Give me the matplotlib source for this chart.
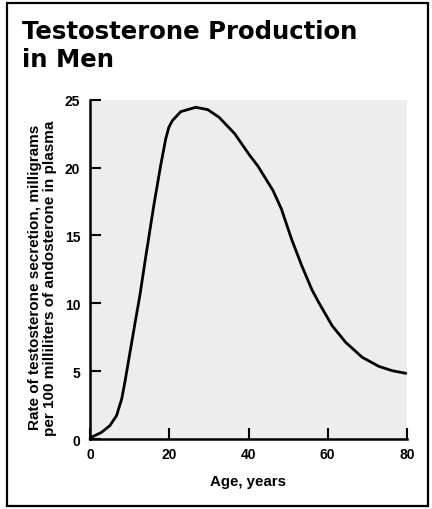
import matplotlib
matplotlib.use("Agg")
import matplotlib.pyplot as plt
from matplotlib.patches import Rectangle

# curve
age = [0, 0.3, 2.9, 5.0, 6.7, 8.0, 8.8, 10.1, 11.4, 12.6, 14.0, 16.1, 17.8, 19.1,
       19.9, 20.8, 22.9, 26.7, 29.7, 32.6, 36.5, 40.3, 42.4, 46.2, 48.3, 50.9,
       53.4, 56.0, 57.7, 61.1, 64.5, 68.7, 72.9, 76.3, 79.7]
rate = [0, 0.12, 0.49, 0.98, 1.72, 2.95, 4.18, 6.4, 8.6, 10.6, 13.3, 17.2, 20.1, 22.1,
        22.97, 23.46, 24.12, 24.44, 24.27, 23.7, 22.5, 20.9, 20.1, 18.3, 16.95, 14.7,
        12.8, 11.0, 10.07, 8.35, 7.13, 6.02, 5.35, 5.03, 4.84]

xticks = [0, 20, 40, 60, 80]
yticks = [0, 5, 10, 15, 20, 25]

fig = plt.figure(figsize=(4.32, 5.10), dpi=100)
fig.patch.set_facecolor("white")
fig.patches.append(Rectangle((7/432, 3/510), 421/432, 503/510, transform=fig.transFigure,
                             fill=False, edgecolor="black", linewidth=1.6))

ax = fig.add_axes([90/432, 1-440/510, 317/432, 339.3/510])
ax.set_facecolor("#ededed")
ax.plot(age, rate, color="black", linewidth=2, solid_joinstyle="round",
        solid_capstyle="round", clip_on=False)
ax.set_xlim(0, 80)
ax.set_ylim(0, 25)
for s in ["top", "right"]:
    ax.spines[s].set_visible(False)
for s in ["left", "bottom"]:
    ax.spines[s].set_linewidth(1.8)
ax.set_xticks(xticks)
ax.set_yticks(yticks)
ax.tick_params(direction="in", length=8, width=1.5)
for lab in ax.get_xticklabels() + ax.get_yticklabels():
    lab.set_fontfamily("Liberation Sans")
    lab.set_fontweight("bold")
    lab.set_fontsize(10)
ax.tick_params(axis="y", pad=7)
ax.tick_params(axis="x", pad=6)

ax.set_xlabel("Age, years", fontfamily="Liberation Sans", fontweight="bold", fontsize=10.8, labelpad=9)
ax.set_ylabel("Rate of testosterone secretion, milligrams\nper 100 milliliters of andosterone in plasma",
              fontfamily="Liberation Sans", fontweight="bold", fontsize=11, linespacing=1.05)
ax.yaxis.set_label_coords(-0.105, 0.478)

fig.text(22/432, 1-20/510, "Testosterone Production\nin Men", fontfamily="DejaVu Sans",
         fontweight="bold", fontsize=17.6, va="top", ha="left", linespacing=1.2)

fig.savefig("out.png", dpi=100)
